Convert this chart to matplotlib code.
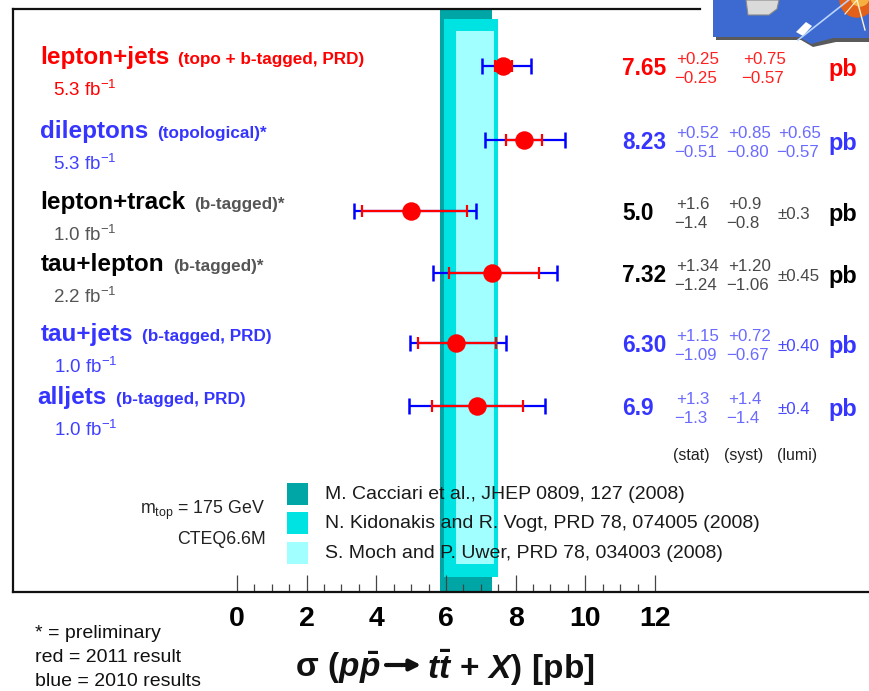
import numpy as np
import matplotlib
matplotlib.use('Agg')
import matplotlib.pyplot as plt
from matplotlib.patches import Rectangle, Polygon, Circle

plt.rcParams['font.family'] = ['Liberation Sans', 'DejaVu Sans']
plt.rcParams['mathtext.fontset'] = 'custom'
plt.rcParams['mathtext.rm'] = 'Liberation Sans:bold'
plt.rcParams['mathtext.it'] = 'Liberation Sans:italic:bold'
plt.rcParams['mathtext.bf'] = 'Liberation Sans:bold'

# ---------------- data ----------------
channels = ['lepton+jets', 'dileptons', 'lepton+track', 'tau+lepton', 'tau+jets', 'alljets']
subtitles = ['(topo + b-tagged, PRD)', '(topological)*', '(b-tagged)*', '(b-tagged)*',
             '(b-tagged, PRD)', '(b-tagged, PRD)']
lumi_labels = ['5.3', '5.3', '1.0', '2.2', '1.0', '1.0']
row_style = ['red', 'blue', 'black', 'black', 'blue', 'blue']

xsec = [7.65, 8.23, 5.0, 7.32, 6.30, 6.9]
decimals = [2, 2, 1, 2, 2, 1]
stat_up = [0.25, 0.52, 1.6, 1.34, 1.15, 1.3]
stat_dn = [0.25, 0.51, 1.4, 1.24, 1.09, 1.3]
syst_up = [0.75, 0.85, 0.9, 1.20, 0.72, 1.4]
syst_dn = [0.57, 0.80, 0.8, 1.06, 0.67, 1.4]
lumi_up = [np.nan, 0.65, 0.3, 0.45, 0.40, 0.4]
lumi_dn = [np.nan, 0.57, 0.3, 0.45, 0.40, 0.4]

theory_labels = ['M. Cacciari et al., JHEP 0809, 127 (2008)',
                 'N. Kidonakis and R. Vogt, PRD 78, 074005 (2008)',
                 'S. Moch and P. Uwer, PRD 78, 034003 (2008)']
theory_lo = [5.83, 5.95, 6.30]
theory_hi = [7.32, 7.48, 7.38]
theory_colors = ['#00A6A6', '#00E3E3', '#A2FFFF']

xticks_major = [0, 2, 4, 6, 8, 10, 12]

# ---------------- layout ----------------
W, H = 870, 691
PX0, PXU = 237.0, 34.83          # pixel of 0 pb, pixels per pb
FR_L, FR_T, FR_B = 13, 9, 592
row_pos = [66, 140, 211, 273, 343, 406]
band_y = [(9, 592), (19, 577), (31, 564)]

def px2pb(p):
    return (p - PX0) / PXU

palette = {
    'red':   dict(title='#FF0000', sub='#FF0000', lumi='#FF0000', val='#FF0000', err='#FF2020', lerr='#FF2020', pb='#FF0000'),
    'blue':  dict(title='#3535FF', sub='#3535FF', lumi='#4040FF', val='#3535FF', err='#6A6AFF', lerr='#4848FF', pb='#3535FF'),
    'black': dict(title='#000000', sub='#555555', lumi='#555555', val='#000000', err='#484848', lerr='#484848', pb='#000000'),
}

fig = plt.figure(figsize=(W / 100, H / 100), dpi=100)

ax = fig.add_axes([FR_L / W, 1 - FR_B / H, 1 - FR_L / W, (FR_B - FR_T) / H])
ax.set_xlim(px2pb(FR_L), px2pb(W))
ax.set_ylim(FR_B, FR_T)
ax.patch.set_alpha(0)
for s in ['left', 'top', 'bottom']:
    ax.spines[s].set_linewidth(1.6)
    ax.spines[s].set_color('#111111')
ax.spines['right'].set_visible(False)
ax.spines['top'].set_bounds(px2pb(FR_L), px2pb(700))
ax.set_yticks([])
ax.set_xticks(xticks_major)
ax.set_xticks([v for v in np.arange(0, 12.01, 0.5) if v not in xticks_major], minor=True)
ax.tick_params(axis='x', which='major', direction='in', length=12.5, width=0.9, color='#444444',
               pad=10, labelsize=20.5)
ax.tick_params(axis='x', which='minor', direction='in', length=6, width=0.9, color='#444444')
for lab in ax.get_xticklabels():
    lab.set_fontweight('bold')

# theory bands
for (lo, hi, c, (y0, y1)) in zip(theory_lo, theory_hi, theory_colors, band_y):
    ax.fill_betweenx([y0, y1], lo, hi, color=c, linewidth=0, zorder=1)

# measurements
x = np.array(xsec)
su, sd = np.array(stat_up), np.array(stat_dn)
yu, yd = np.array(syst_up), np.array(syst_dn)
lu, ld = np.nan_to_num(np.array(lumi_up)), np.nan_to_num(np.array(lumi_dn))
tot_up = np.sqrt(su**2 + yu**2 + lu**2)
tot_dn = np.sqrt(sd**2 + yd**2 + ld**2)
ax.errorbar(x, row_pos, xerr=[tot_dn, tot_up], fmt='none', ecolor='#0000FF',
            elinewidth=1.6, capsize=5.8, capthick=1.8, zorder=3)
ax.errorbar(x, row_pos, xerr=[sd, su], fmt='none', ecolor='#FF0000',
            elinewidth=1.6, capsize=4.6, capthick=1.6, zorder=4)
ax.plot(x, row_pos, 'o', color='#FF0000', ms=12.3, mec='#FF0000', zorder=5)

# ---------------- overlay for text ----------------
ov = fig.add_axes([0, 0, 1, 1])
ov.set_xlim(0, W)
ov.set_ylim(H, 0)
ov.axis('off')

title_x = [40, 40, 40, 40.5, 40.5, 37.5]
lumi_x = [53, 53, 53, 52.7, 54, 54]
for i, name in enumerate(channels):
    st = palette[row_style[i]]
    yb = row_pos[i] - 2.5
    t = ov.text(title_x[i], yb, name, fontsize=17.5, fontweight='bold', color=st['title'], va='baseline')
    ov.annotate(subtitles[i], xy=(1, yb), xycoords=(t, 'data'), xytext=(6.5, 0),
                textcoords='offset points', fontsize=12.3, fontweight='bold', color=st['sub'], va='baseline')
    ov.text(lumi_x[i], row_pos[i] + 30, lumi_labels[i] + r' fb$^{\mathregular{-1}}$', fontsize=13.5,
            color=st['lumi'], va='baseline')

    d = decimals[i]
    ov.text(622, row_pos[i] + 9, f'{xsec[i]:.{d}f}', fontsize=16.3, fontweight='bold', color=st['val'], va='baseline')
    syst_x = 728 if not np.isnan(lumi_up[i]) else 743
    for cx, up, dn in [(676, stat_up[i], stat_dn[i]), (syst_x, syst_up[i], syst_dn[i])]:
        ov.text(cx, row_pos[i] - 2.5, f'+{up:.{d}f}', fontsize=12.2, color=st['err'], va='baseline')
        ov.text(cx - 2, row_pos[i] + 16.5, f'\u2212{dn:.{d}f}', fontsize=12.2, color=st['err'], va='baseline')
    if not np.isnan(lumi_up[i]):
        if lumi_up[i] == lumi_dn[i]:
            ov.text(777.5, row_pos[i] + 8, f'\u00b1{lumi_up[i]:.{d}f}', fontsize=12.2, color=st['lerr'], va='baseline')
        else:
            ov.text(778, row_pos[i] - 2.5, f'+{lumi_up[i]:.{d}f}', fontsize=12.2, color=st['err'], va='baseline')
            ov.text(776, row_pos[i] + 16.5, f'\u2212{lumi_dn[i]:.{d}f}', fontsize=12.2, color=st['err'], va='baseline')
    ov.text(828, row_pos[i] + 10, 'pb', fontsize=16.8, fontweight='bold', color=st['pb'], va='baseline')

for cx, s in zip([673, 724, 777], ['(stat)', '(syst)', '(lumi)']):
    ov.text(cx, 455, s, fontsize=11.5, color='#222222', va='center')

# legend for theory
leg_y = [483, 512, 542]
for lab, c, y0 in zip(theory_labels, theory_colors, leg_y):
    ov.add_patch(Rectangle((287, y0), 21.5, 22, color=c, lw=0, zorder=2))
    ov.text(325, y0 + 11, lab, fontsize=14, color='#1a1a1a', va='center', zorder=6)

ov.text(265, 510, r'm$_{\mathregular{top}}$ = 175 GeV', fontsize=12.8, color='#222222', ha='right', va='center')
ov.text(266, 540, 'CTEQ6.6M', fontsize=12.8, color='#222222', ha='right', va='center')

for yy, s in zip([634, 658, 681], ['* = preliminary', 'red = 2011 result', 'blue = 2010 results']):
    ov.text(35, yy, s, fontsize=14, color='#111111', va='center')

# axis title: sigma (p pbar -> t tbar + X) [pb]
AR0, AR1, AY = 386, 421, 665
ov.text(AR0 - 5, 668, r'$\mathrm{\sigma}\ (p\bar{p}$', fontsize=24, ha='right', va='center', color='#111111')
ov.annotate('', xy=(AR1, AY), xytext=(AR0, AY),
            arrowprops=dict(arrowstyle='-|>', lw=3.0, mutation_scale=16, color='#111111',
                            shrinkA=0, shrinkB=0))
ov.text(AR1 + 6, 668, r'$t\bar{t}\ \mathrm{+}\ X)\ [\mathrm{pb}]$', fontsize=24, ha='left', va='center',
        color='#111111')

# ---------------- DØ logo (decoration) ----------------
shadow = Polygon([(716, 3), (870, 3), (870, 42), (836, 42), (813, 47), (801, 40), (716, 40)],
                 closed=True, color='#5a5a5a', lw=0, zorder=8)
ov.add_patch(shadow)
blue = Polygon([(713, 0), (870, 0), (870, 38), (833, 38), (811, 44), (799, 37), (713, 37)],
               closed=True, color='#3C6AD0', lw=0, zorder=9)
ov.add_patch(blue)
ov.add_patch(Polygon([(746, 0), (779, 0), (777, 9), (769, 15), (748, 15)], closed=True,
                     facecolor='#DADADA', edgecolor='#888888', lw=0.8, zorder=10))
ov.add_patch(Polygon([(796, 32), (806, 22), (812, 26), (803, 36)], closed=True,
                     color='#FFFFFF', lw=0, zorder=10))
ov.add_patch(Circle((857, 0), 17, color='#E2601A', zorder=10))
ov.add_patch(Circle((860, -3), 9, color='#F6B040', zorder=11))
ov.plot([798, 850], [40, -1], color='#B9D4FF', lw=1.2, zorder=12)
ov.plot([857, 865], [0, 30], color='#FFF4D0', lw=1.0, zorder=12)
ov.plot([857, 845], [0, 14], color='#FFF4D0', lw=0.8, zorder=12)

fig.savefig('out.png', dpi=100)
